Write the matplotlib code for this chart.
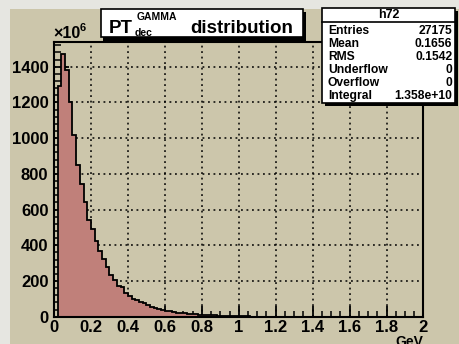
import numpy as np
import matplotlib
matplotlib.use('Agg')
import matplotlib.pyplot as plt
from matplotlib.patches import Rectangle
from matplotlib.ticker import MultipleLocator, FormatStrFormatter

# bin contents (x 10^6), 100 bins of 0.02 GeV from 0 to 2
counts = [0, 1292, 1469, 1381, 1204, 1017, 850, 745, 640, 541,
          489, 426, 370, 321, 280, 234, 206, 172, 165, 134,
          116, 100, 92, 82, 74, 64, 54, 47, 42, 38,
          34, 30, 27, 23, 21, 18, 16, 14, 13, 12,
          10, 9, 8, 7, 6, 5, 4, 4, 3, 3,
          2, 2, 2, 1, 1, 1, 1, 1]
counts = counts + [0] * (100 - len(counts))
edges = np.linspace(0, 2, 101)

title_main = "PT"
title_sup = "GAMMA"
title_sub = "dec"
title_rest = "distribution"
stat_name = "h72"
stat_labels = ["Entries", "Mean", "RMS", "Underflow", "Overflow", "Integral"]
stat_values = ["27175", "0.1656", "0.1542", "0", "0", "1.358e+10"]

W, H = 460, 344
beige = '#ccc6ab'
fillc = '#c0807a'
font = 'Liberation Sans'

fig = plt.figure(figsize=(W / 100, H / 100), dpi=100)
fig.patch.set_facecolor(beige)


def px(x, y):
    return x / W, 1 - y / H


# light bevel on top and left of the canvas
fig.patches.append(Rectangle((0, 0), 10 / W, 1, transform=fig.transFigure,
                             facecolor='#e6e6e1', edgecolor='none', zorder=0))
fig.patches.append(Rectangle((0, 1 - 9 / H), 1, 9 / H, transform=fig.transFigure,
                             facecolor='#e6e6e1', edgecolor='none', zorder=0))

l, b = px(54, 316.7)
r, t = px(423.5, 41.7)
ax = fig.add_axes([l, b, r - l, t - b])
ax.set_zorder(1)
ax.set_facecolor(beige)

ax.stairs(counts, edges, fill=True, color=fillc, zorder=1)
ax.stairs(counts, edges, color='black', lw=1.3, zorder=2)

ax.set_xlim(0, 2)
ax.set_ylim(0, 1540)
ax.xaxis.set_major_locator(MultipleLocator(0.2))
ax.xaxis.set_minor_locator(MultipleLocator(0.05))
ax.yaxis.set_major_locator(MultipleLocator(200))
ax.yaxis.set_minor_locator(MultipleLocator(40))
ax.xaxis.set_major_formatter(FormatStrFormatter('%g'))
ax.grid(True, which='major', color='black', linestyle=(0, (1.2, 2.4)), lw=1.1, zorder=0.5)
ax.set_axisbelow(True)
for s in ax.spines.values():
    s.set_linewidth(1.5)
    s.set_zorder(3)

ax.tick_params(axis='y', which='major', direction='in', length=11, width=1.3, pad=4)
ax.tick_params(axis='y', which='minor', direction='in', length=5, width=1.1)
ax.tick_params(axis='x', which='major', direction='in', length=8, width=1.3, pad=2.5)
ax.tick_params(axis='x', which='minor', direction='in', length=4, width=1.1)
for lab in ax.get_xticklabels() + ax.get_yticklabels():
    lab.set_fontfamily(font)
    lab.set_fontweight('bold')
    lab.set_fontsize(12)

ax.set_xlabel('GeV', loc='right', fontfamily=font, fontweight='bold', fontsize=10, labelpad=0)

# x10^6 multiplier
fig.text(*px(53, 38), '\u00d710', fontfamily=font, fontweight='bold', fontsize=11.5, va='baseline')
fig.text(*px(80, 31), '6', fontfamily=font, fontweight='bold', fontsize=8, va='baseline')

# title box with shadow
fig.patches.append(Rectangle(px(103.5, 40.5), (303 - 100.7) / W, (37.3 - 9) / H,
                             transform=fig.transFigure, facecolor='black', zorder=5))
fig.patches.append(Rectangle(px(100.7, 37.3), (303 - 100.7) / W, (37.3 - 9) / H,
                             transform=fig.transFigure, facecolor='white',
                             edgecolor='black', lw=1.2, zorder=6))
fig.text(*px(109, 33), title_main, fontfamily=font, fontweight='bold', fontsize=13.5, va='baseline', zorder=7)
fig.text(*px(136.5, 19.5), title_sup, fontfamily=font, fontweight='bold', fontsize=7.5, va='baseline', zorder=7)
fig.text(*px(135, 36), title_sub, fontfamily=font, fontweight='bold', fontsize=7.5, va='baseline', zorder=7)
fig.text(*px(190, 33), title_rest, fontfamily=font, fontweight='bold', fontsize=13.5, va='baseline', zorder=7)

# stats box with shadow
sx0, sy0, sx1, sy1 = 322.3, 8.3, 455, 103
fig.patches.append(Rectangle(px(sx0 + 3, sy1 + 3), (sx1 - sx0) / W, (sy1 - sy0) / H,
                             transform=fig.transFigure, facecolor='black', zorder=5))
fig.patches.append(Rectangle(px(sx0, sy1), (sx1 - sx0) / W, (sy1 - sy0) / H,
                             transform=fig.transFigure, facecolor='white',
                             edgecolor='black', lw=1.2, zorder=6))
hy = 22.3
fig.add_artist(plt.Line2D([sx0 / W, sx1 / W], [1 - hy / H, 1 - hy / H],
                          transform=fig.transFigure, color='black', lw=1.2, zorder=7))
fig.text(*px((sx0 + sx1) / 2, 15.5), stat_name, fontfamily=font, fontweight='bold', fontsize=9,
         ha='center', va='center', zorder=7)
rows_y = np.linspace(30.5, 96.5, len(stat_labels))
for yy, lab, val in zip(rows_y, stat_labels, stat_values):
    fig.text(*px(328, yy), lab, fontfamily=font, fontweight='bold', fontsize=8.7,
             ha='left', va='center', zorder=7)
    fig.text(*px(452.5, yy), val, fontfamily=font, fontweight='bold', fontsize=8.7,
             ha='right', va='center', zorder=7)

fig.savefig('out.png', dpi=100, facecolor=fig.get_facecolor())
